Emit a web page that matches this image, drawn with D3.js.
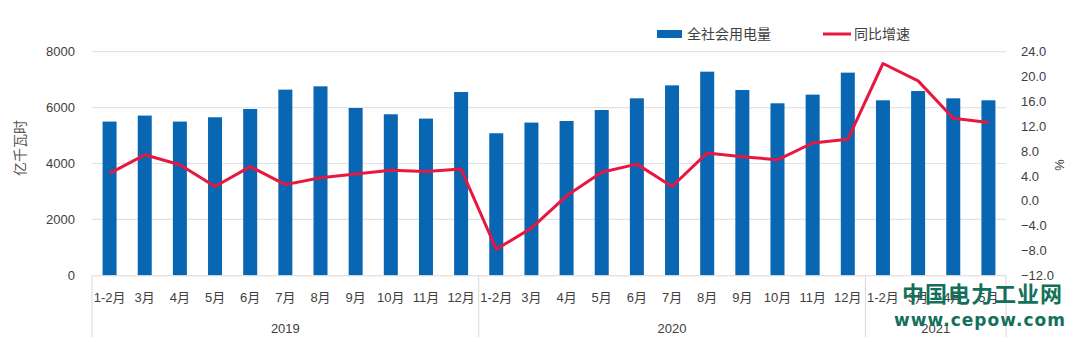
<!DOCTYPE html>
<html><head><meta charset="utf-8">
<script src="https://cdn.jsdelivr.net/npm/d3@7"></script>
<style>
html,body{margin:0;padding:0;background:#fff;}
svg text{font-family:"Liberation Sans","Noto Sans CJK SC",sans-serif;}
</style></head>
<body><svg id="c" width="1080" height="348"></svg>
<script>
const months = ["1-2月","3月","4月","5月","6月","7月","8月","9月","10月","11月","12月",
                "1-2月","3月","4月","5月","6月","7月","8月","9月","10月","11月","12月",
                "1-2月","3月","4月","5月"];
const years = ["2019","2020","2021"];
const yearCounts = [11,11,4];
const consumption = [5500,5714,5500,5654,5950,6643,6761,5986,5761,5607,6557,
                     5082,5464,5521,5914,6332,6796,7286,6629,6154,6464,7250,
                     6261,6593,6332,6261];
const growth = [4.4,7.4,5.8,2.3,5.5,2.6,3.7,4.3,4.9,4.7,5.1,
                -7.8,-4.4,0.8,4.6,5.9,2.3,7.7,7.1,6.6,9.3,9.9,
                22.1,19.3,13.3,12.6];
const leftTicks = [0,2000,4000,6000,8000];
const rightTicks = [-12,-8,-4,0,4,8,12,16,20,24];
const seriesNames = ["全社会用电量","同比增速"];

const svg = d3.select("#c");
const L = 92, R = 1006, T = 51.7, B = 275.3;
const idx = months.map((d,i)=>i);
const xc = d3.scaleBand().domain(idx).range([L,R]);
const yL = d3.scaleLinear().domain([0,8000]).range([B,T]);
const yR = d3.scaleLinear().domain([-12,24]).range([B,T]);

// gridlines
svg.append("g").selectAll("line").data(leftTicks.slice(1)).join("line")
  .attr("x1",L).attr("x2",R).attr("y1",d=>yL(d)).attr("y2",d=>yL(d))
  .attr("stroke","#e3e3e3").attr("stroke-width",1.2);

// bars
svg.append("g").selectAll("rect").data(consumption).join("rect")
  .attr("x",(d,i)=>xc(i)+xc.bandwidth()/2-7).attr("width",14)
  .attr("y",d=>yL(d)).attr("height",d=>B-yL(d))
  .attr("fill","#0866b2");

// line
const line = d3.line().x((d,i)=>xc(i)+xc.bandwidth()/2).y(d=>yR(d));
svg.append("path").datum(growth).attr("d",line)
  .attr("fill","none").attr("stroke","#e8173f").attr("stroke-width",3)
  .attr("stroke-linejoin","round");

// left axis
const gl = svg.append("g").attr("transform",`translate(${L},0)`)
  .call(d3.axisLeft(yL).tickValues(leftTicks).tickSize(0).tickPadding(17).tickFormat(d3.format("d")));
gl.select(".domain").remove();
gl.selectAll("text").attr("font-size",13).attr("fill","#404040");

// right axis
const gr = svg.append("g").attr("transform",`translate(${R},0)`)
  .call(d3.axisRight(yR).tickValues(rightTicks).tickSize(0).tickPadding(15).tickFormat(d3.format(".1f")));
gr.select(".domain").remove();
gr.selectAll("text").attr("font-size",13).attr("fill","#404040");

// axis titles
svg.append("text").attr("transform","translate(20,148) rotate(-90)")
  .attr("text-anchor","middle").attr("dominant-baseline","central")
  .attr("font-size",14).attr("fill","#595959").text("亿千瓦时");
svg.append("text").attr("transform","translate(1059,165) rotate(90)")
  .attr("text-anchor","middle").attr("dominant-baseline","central")
  .attr("font-size",13).attr("fill","#404040").text("%");

// x axis baseline
svg.append("line").attr("x1",L).attr("x2",R).attr("y1",B+0.5).attr("y2",B+0.5)
  .attr("stroke","#d9d9d9").attr("stroke-width",1);

// month labels
svg.append("g").selectAll("text").data(months).join("text")
  .attr("x",(d,i)=>xc(i)+xc.bandwidth()/2).attr("y",297)
  .attr("text-anchor","middle").attr("dominant-baseline","central")
  .attr("font-size",13).attr("fill","#404040").text(d=>d);

// year groups
let start = 0;
const bounds = [0];
yearCounts.forEach(c=>{start+=c; bounds.push(start);});
svg.append("g").selectAll("line").data(bounds).join("line")
  .attr("x1",d=>d<months.length?xc(d):R).attr("x2",d=>d<months.length?xc(d):R)
  .attr("y1",B).attr("y2",337).attr("stroke","#d9d9d9").attr("stroke-width",1);
svg.append("g").selectAll("text").data(years).join("text")
  .attr("x",(d,i)=>{
     const a = xc(bounds[i]); const b = bounds[i+1]<months.length?xc(bounds[i+1]):R;
     return (a+b)/2;})
  .attr("y",328).attr("text-anchor","middle").attr("dominant-baseline","central")
  .attr("font-size",13).attr("fill","#404040").text(d=>d);

// legend
const lg = svg.append("g");
lg.append("rect").attr("x",657).attr("y",30).attr("width",25).attr("height",8).attr("fill","#0866b2");
lg.append("text").attr("x",687).attr("y",34).attr("dominant-baseline","central")
  .attr("font-size",14).attr("fill","#404040").text(seriesNames[0]);
lg.append("line").attr("x1",823).attr("x2",851).attr("y1",34).attr("y2",34)
  .attr("stroke","#e8173f").attr("stroke-width",3);
lg.append("text").attr("x",854).attr("y",34).attr("dominant-baseline","central")
  .attr("font-size",14).attr("fill","#404040").text(seriesNames[1]);

// watermark
svg.append("text").attr("x",902).attr("y",292)
  .attr("dominant-baseline","central").attr("font-size",22).attr("font-weight","bold")
  .attr("textLength",160).attr("lengthAdjust","spacing")
  .attr("fill","#13705a").style("font-family","'Noto Sans CJK SC',sans-serif").text("中国电力工业网");
svg.append("text").attr("x",894).attr("y",320)
  .attr("dominant-baseline","central").attr("font-size",17).attr("font-weight","bold")
  .attr("textLength",171).attr("lengthAdjust","spacing")
  .attr("fill","#13705a").style("font-family","'DejaVu Sans',sans-serif").text("www.cepow.com");
</script></body></html>
